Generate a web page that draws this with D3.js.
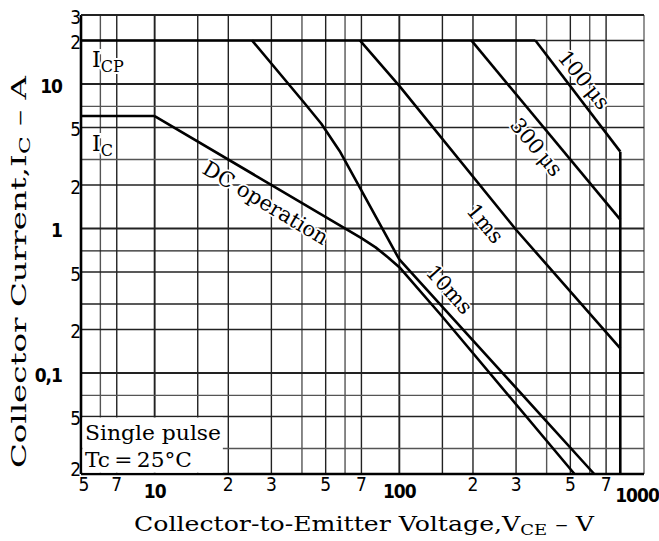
<!DOCTYPE html>
<html><head><meta charset="utf-8">
<script src="https://cdn.jsdelivr.net/npm/d3@7"></script>
<style>body{margin:0;background:#fff} svg{display:block}</style>
</head><body>
<svg id="c" width="659" height="541"></svg>
<script>
// ---- data ----
const xGrid = [5,6,7,10,15,20,30,40,50,60,70,100,150,200,300,400,500,600,700,1000];
const yGrid = [0.02,0.03,0.05,0.07,0.1,0.2,0.3,0.5,0.7,1,2,3,5,7,10,20,30];
const xTickValues = [5,7,10,20,30,50,70,100,200,300,500,700,1000];
const xTickLabels = ["5","7","10","2","3","5","7","100","2","3","5","7","1000"];
const xMajor = [10,100,1000];
const yTickValues = [30,20,10,5,2,1,0.5,0.2,0.1,0.05,0.02];
const yTickLabels = ["3","2","10","5","2","1","5","2","0,1","5","2"];
const yMajor = [10,1,0.1];
const icpLimit = [[5,20],[360,20]];
const icLimit = [[5,6],[10,6]];
const dcOperation = [[10,6],[70,0.857],[80,0.74],[90,0.63],[100,0.54],[150,0.245],[520,0.02]];
const pulse10ms = [[25,20],[40.6,7.5],[48,5.3],[57,3.44],[68,2.0],[100,0.61],[150,0.287],[273,0.094],[626,0.02]];
const pulse1ms = [[69,20],[100,9.7],[300,0.98],[800,0.148]];
const pulse300us = [[197,20],[800,1.15]];
const pulse100us = [[360,20],[800,3.4]];
const voltageLimit = [[800,3.4],[800,0.02]];
const curveLabels = [
  {text:"DC operation", v:28.4, i:1.5, angle:31},
  {text:"10ms", v:160, i:0.377, angle:48},
  {text:"1ms", v:224, i:1.08, angle:50},
  {text:"300\u2009\u03bcs", v:363, i:3.65, angle:50},
  {text:"100\u2009\u03bcs", v:568, i:10.65, angle:51}
];

// ---- drawing ----
const svg = d3.select("#c");
const serif = "'DejaVu Serif', 'Liberation Serif', serif";
const tickFont = "'Liberation Sans Narrow', 'DejaVu Sans Condensed', 'Liberation Sans', sans-serif";
const x = d3.scaleLog().domain([5,1000]).range([81,644]);
const y = d3.scaleLog().domain([0.02,30]).range([474,15]);
const lightX = [6,40,60,400,600];
const lightY = [0.03,0.07,3,7];

const g = svg.append("g");
// grid
g.selectAll("line.vg").data(xGrid).join("line")
  .attr("x1", d=>x(d)).attr("x2", d=>x(d)).attr("y1", y(0.02)).attr("y2", y(30))
  .attr("stroke", d => (d===1000 ? "#666" : lightX.includes(d) ? "#555" : "#222"))
  .attr("stroke-width", d => (d===10||d===100)?1.9:1.4);
g.selectAll("line.hg").data(yGrid).join("line")
  .attr("y1", d=>y(d)).attr("y2", d=>y(d)).attr("x1", x(5)).attr("x2", x(1000))
  .attr("stroke", d => lightY.includes(d) ? "#555" : "#222")
  .attr("stroke-width", d => (d===1||d===0.1||d===10)?1.9:1.4);

// axes lines
g.append("line").attr("x1", x(5)).attr("x2", x(5)).attr("y1", y(0.02)).attr("y2", y(30)).attr("stroke","#000").attr("stroke-width",2.6);
g.append("line").attr("x1", x(5)).attr("x2", x(1000)).attr("y1", y(0.02)).attr("y2", y(0.02)).attr("stroke","#000").attr("stroke-width",2.6);
g.append("line").attr("x1", x(5)).attr("x2", x(1000)).attr("y1", y(30)).attr("y2", y(30)).attr("stroke","#222").attr("stroke-width",1.8);

// condition box
g.append("rect").attr("x", x(5)+1.5).attr("y", y(0.05)+1).attr("width", x(19)-x(5)-1.5).attr("height", y(0.02)-y(0.05)-2.3).attr("fill","#fff");
g.append("text").attr("x", x(5)+4).attr("y", y(0.05)+24).attr("font-family", serif).attr("font-size", 21)
  .attr("textLength", 136).attr("lengthAdjust","spacingAndGlyphs").text("Single pulse");
g.append("text").attr("x", x(5)+4).attr("y", y(0.05)+51).attr("font-family", serif).attr("font-size", 21)
  .attr("textLength", 107).attr("lengthAdjust","spacingAndGlyphs").text("Tc\u2009=\u200925\u00b0C");

// curves
const line = d3.line().x(d=>x(d[0])).y(d=>y(d[1]));
[icpLimit, icLimit, dcOperation, pulse10ms, pulse1ms, pulse300us, pulse100us, voltageLimit].forEach(c => {
  g.append("path").attr("d", line(c)).attr("fill","none").attr("stroke","#000")
   .attr("stroke-width", 2.6).attr("stroke-linejoin","round");
});

// curve labels
g.selectAll("text.cl").data(curveLabels).join("text")
  .attr("transform", d => `translate(${x(d.v)},${y(d.i)}) rotate(${d.angle})`)
  .attr("text-anchor","middle").attr("dominant-baseline","central")
  .attr("font-family", serif).attr("font-size", 21)
  .attr("stroke","#fff").attr("stroke-width",3.5).attr("paint-order","stroke")
  .text(d=>d.text);

// ICP / IC labels
function subLabel(v, i, main, sub) {
  const t = g.append("text").attr("x", x(v)).attr("y", y(i)).attr("font-family", serif).attr("font-size", 22)
    .attr("stroke","#fff").attr("stroke-width",4).attr("paint-order","stroke");
  t.append("tspan").text(main);
  t.append("tspan").attr("font-size", 16).attr("dy", 5).text(sub);
}
subLabel(5.55, 13.1, "I", "CP");
subLabel(5.55, 3.43, "I", "C");

// tick labels
g.selectAll("text.xt").data(xTickValues).join("text")
  .attr("x", d => Math.min(x(d)+ (d===5?3:0), 637))
  .attr("y", d => xMajor.includes(d) ? y(0.02)+ (d===1000?28:24) : y(0.02)+17)
  .attr("text-anchor","middle").attr("font-family", tickFont).attr("font-size", 19)
  .attr("font-weight", d => xMajor.includes(d) ? "bold" : "normal")
  .attr("letter-spacing", d => xMajor.includes(d) ? -1 : 0)
  .text((d,i)=>xTickLabels[i]);
g.selectAll("text.yt").data(yTickValues).join("text")
  .attr("x", d => yMajor.includes(d) ? 62 : 81)
  .attr("y", d => Math.min(y(d)+2, y(0.02)-5))
  .attr("text-anchor","end").attr("dominant-baseline","central")
  .attr("font-family", tickFont).attr("font-size", 19)
  .attr("font-weight", d => yMajor.includes(d) ? "bold" : "normal")
  .attr("letter-spacing", d => yMajor.includes(d) ? -1 : 0)
  .text((d,i)=>yTickLabels[i]);

// axis titles
const xt = svg.append("text").attr("x", 364).attr("y", 531).attr("text-anchor","middle")
  .attr("font-family", serif).attr("font-size", 21)
  .attr("textLength", 460).attr("lengthAdjust","spacingAndGlyphs");
xt.append("tspan").text("Collector-to-Emitter Voltage,V");
xt.append("tspan").attr("font-size", 15).attr("dy", 4).text("CE");
xt.append("tspan").attr("dy", -4).text(" \u2013 V");

const yt = svg.append("text").attr("transform","translate(26,272) rotate(-90)").attr("text-anchor","middle")
  .attr("font-family", serif).attr("font-size", 21)
  .attr("textLength", 392).attr("lengthAdjust","spacingAndGlyphs");
yt.append("tspan").text("Collector Current,I");
yt.append("tspan").attr("font-size", 15).attr("dy", 4).text("C");
yt.append("tspan").attr("dy", -4).text(" \u2013 A");
</script>
</body></html>
